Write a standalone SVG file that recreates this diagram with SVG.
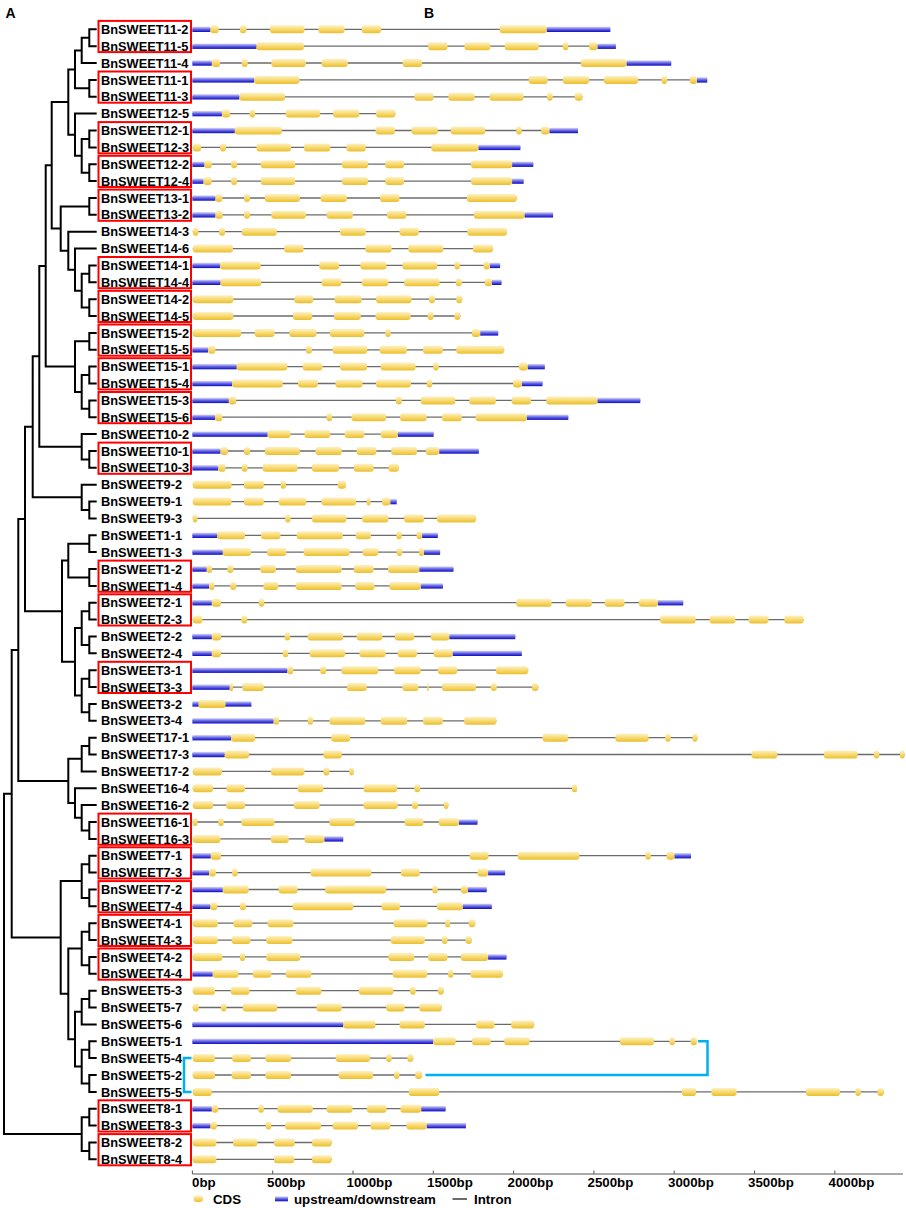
<svg xmlns="http://www.w3.org/2000/svg" width="906" height="1208" viewBox="0 0 906 1208">
<defs>
<linearGradient id="gc" x1="0" y1="0" x2="0" y2="1"><stop offset="0" stop-color="#FDF1C2"/><stop offset="0.5" stop-color="#F8DA72"/><stop offset="1" stop-color="#EBBE2E"/></linearGradient>
<linearGradient id="gu" x1="0" y1="0" x2="0" y2="1"><stop offset="0" stop-color="#DCDCF8"/><stop offset="0.45" stop-color="#6C6CE6"/><stop offset="1" stop-color="#0A0AC2"/></linearGradient>
</defs>
<style>
text{font-family:"Liberation Sans",Arial,sans-serif;fill:#000}
.lb{font-size:12.8px;font-weight:bold}
.ax{font-size:13.3px;font-weight:bold}
.c{fill:url(#gc)}
.u{fill:url(#gu)}
.i{stroke:#6b6b6b;stroke-width:1.3}
.tree{fill:none;stroke:#000;stroke-width:2}
.box{fill:none;stroke:#ff0000;stroke-width:2}
.cy{fill:none;stroke:#00B0F0;stroke-width:2.5}
</style>
<rect width="906" height="1208" fill="#fff"/>
<text x="5.5" y="18" style="font-size:14px;font-weight:bold">A</text>
<text x="424" y="18" style="font-size:14px;font-weight:bold">B</text>

<g id="connectors">
<path class="tree" d="M96.7,29.3H89.3V46.2H96.7 M96.7,79.9H89.3V96.8H96.7 M96.7,130.5H89.3V147.4H96.7 M96.7,164.2H89.3V181.1H96.7 M96.7,198H89.3V214.8H96.7 M96.7,265.4H89.3V282.3H96.7 M96.7,299.2H89.3V316H96.7 M96.7,332.9H89.3V349.8H96.7 M96.7,366.6H89.3V383.5H96.7 M96.7,400.4H89.3V417.2H96.7 M96.7,451H89.3V467.8H96.7 M96.7,501.6H89.3V518.4H96.7 M96.7,535.3H89.3V552.1H96.7 M96.7,569H89.3V585.9H96.7 M96.7,602.7H89.3V619.6H96.7 M96.7,636.5H89.3V653.3H96.7 M96.7,670.2H89.3V687.1H96.7 M96.7,703.9H89.3V720.8H96.7 M96.7,737.7H89.3V754.5H96.7 M96.7,822H89.3V838.9H96.7 M96.7,855.7H89.3V872.6H96.7 M96.7,889.5H89.3V906.3H96.7 M96.7,923.2H89.3V940.1H96.7 M96.7,956.9H89.3V973.8H96.7 M96.7,990.7H89.3V1007.5H96.7 M96.7,1041.3H89.3V1058.1H96.7 M96.7,1075H89.3V1091.9H96.7 M96.7,1108.7H89.3V1125.6H96.7 M96.7,1142.5H89.3V1159.3H96.7
M89.3,37.75H81.7V63H96.7 M81.7,50.4H75V88.35H89.3 M89.3,138.95H81.7V172.65H89.3 M96.7,113.6H75V155.8H81.7 M75,69.4H68.3V134.7H75
M89.3,273.85H81.7V307.6H89.3 M96.7,248.6H75V290.7H81.7 M96.7,231.7H68.3V269.65H75 M89.3,206.4H60.7V250.7H68.3 M68.3,102.05H51.7V228.55H60.7
M89.3,375.05H81.7V408.8H89.3 M89.3,341.35H75V391.9H81.7 M51.7,165.3H45.7V366.6H75 M96.7,434.1H81.7V459.4H89.3 M45.7,265.95H39.3V446.75H81.7
M96.7,484.7H81.7V510H89.3 M39.3,356.35H32.7V497.35H81.7
M89.3,543.7H68.3V577.45H89.3 M89.3,611.15H81.7V644.9H89.3 M89.3,678.65H81.7V712.35H89.3 M81.7,628H75V695.5H81.7 M68.3,560.6H62V661.75H75 M32.7,426.85H25V611.2H62
M89.3,746.1H81.7V771.4H96.7 M96.7,805.1H81.7V830.45H89.3 M96.7,788.3H75V817.8H81.7 M81.7,758.75H68.3V803.05H75 M25,519H18.3V780.9H68.3
M89.3,864.15H81.7V897.9H89.3 M89.3,931.65H81.7V965.35H89.3 M89.3,999.1H81.7V1024.4H96.7 M89.3,1049.7H81.7V1083.45H89.3 M81.7,1011.75H75V1066.6H81.7 M81.7,948.5H68.3V1039.2H75 M81.7,881H60.7V993.85H68.3 M18.3,649.95H11.7V937.4H60.7
M89.3,1117.15H81.7V1150.9H89.3 M11.7,793.7H4V1134H81.7"/>
<path class="cy" d="M698,1041.3H707.5V1075H425.5 M191.5,1058.1H184V1091.9H191.5"/>
</g>

<g id="boxes">
<rect class="box" x="98.5" y="20.9" width="92.5" height="31.2"/>
<rect class="box" x="98.5" y="71.5" width="92.5" height="31.2"/>
<rect class="box" x="98.5" y="122.1" width="92.5" height="31.2"/>
<rect class="box" x="98.5" y="155.8" width="92.5" height="31.2"/>
<rect class="box" x="98.5" y="189.6" width="92.5" height="31.2"/>
<rect class="box" x="98.5" y="257" width="92.5" height="31.2"/>
<rect class="box" x="98.5" y="290.8" width="92.5" height="31.2"/>
<rect class="box" x="98.5" y="324.5" width="92.5" height="31.2"/>
<rect class="box" x="98.5" y="358.2" width="92.5" height="31.2"/>
<rect class="box" x="98.5" y="392" width="92.5" height="31.2"/>
<rect class="box" x="98.5" y="442.6" width="92.5" height="31.2"/>
<rect class="box" x="98.5" y="560.6" width="92.5" height="31.2"/>
<rect class="box" x="98.5" y="594.3" width="92.5" height="31.2"/>
<rect class="box" x="98.5" y="661.8" width="92.5" height="31.2"/>
<rect class="box" x="98.5" y="813.6" width="92.5" height="31.2"/>
<rect class="box" x="98.5" y="847.3" width="92.5" height="31.2"/>
<rect class="box" x="98.5" y="881.1" width="92.5" height="31.2"/>
<rect class="box" x="98.5" y="914.8" width="92.5" height="31.2"/>
<rect class="box" x="98.5" y="948.5" width="92.5" height="31.2"/>
<rect class="box" x="98.5" y="1100.3" width="92.5" height="31.2"/>
<rect class="box" x="98.5" y="1134.1" width="92.5" height="31.2"/>
</g>

<g id="BnSWEET11-2" transform="translate(0,29.3)"><text class="lb" x="101" y="4.6">BnSWEET11-2</text><line class="i" x1="192.4" x2="610.3"/><rect class="u" x="192.4" y="-2.7" width="18" height="5.4"/><rect class="u" x="546.7" y="-2.7" width="63.6" height="5.4"/><rect class="c" x="210.4" y="-4" width="8.3" height="8" rx="3"/><rect class="c" x="239.9" y="-4" width="6.5" height="8" rx="3"/><rect class="c" x="269.9" y="-4" width="34.6" height="8" rx="3"/><rect class="c" x="318.3" y="-4" width="26.3" height="8" rx="3"/><rect class="c" x="361.7" y="-4" width="19.4" height="8" rx="3"/><rect class="c" x="499.6" y="-4" width="47.1" height="8" rx="3"/></g>
<g id="BnSWEET11-5" transform="translate(0,46.2)"><text class="lb" x="101" y="4.6">BnSWEET11-5</text><line class="i" x1="192.4" x2="615.9"/><rect class="u" x="192.4" y="-2.7" width="64.1" height="5.4"/><rect class="u" x="597.4" y="-2.7" width="18.5" height="5.4"/><rect class="c" x="256.5" y="-4" width="47.5" height="8" rx="3"/><rect class="c" x="428.1" y="-4" width="19.4" height="8" rx="3"/><rect class="c" x="464.5" y="-4" width="25.9" height="8" rx="3"/><rect class="c" x="504.7" y="-4" width="34.1" height="8" rx="3"/><rect class="c" x="562.8" y="-4" width="5.5" height="8" rx="3"/><rect class="c" x="589.1" y="-4" width="8.3" height="8" rx="3"/></g>
<g id="BnSWEET11-4" transform="translate(0,63)"><text class="lb" x="101" y="4.6">BnSWEET11-4</text><line class="i" x1="192.4" x2="671.2"/><rect class="u" x="192.4" y="-2.7" width="19.4" height="5.4"/><rect class="u" x="626.5" y="-2.7" width="44.7" height="5.4"/><rect class="c" x="211.8" y="-4" width="8.3" height="8" rx="3"/><rect class="c" x="241.7" y="-4" width="6" height="8" rx="3"/><rect class="c" x="271.3" y="-4" width="34.6" height="8" rx="3"/><rect class="c" x="321.5" y="-4" width="26.3" height="8" rx="3"/><rect class="c" x="402.7" y="-4" width="19.4" height="8" rx="3"/><rect class="c" x="580.8" y="-4" width="45.7" height="8" rx="3"/></g>
<g id="BnSWEET11-1" transform="translate(0,79.9)"><text class="lb" x="101" y="4.6">BnSWEET11-1</text><line class="i" x1="192.4" x2="707.2"/><rect class="u" x="192.4" y="-2.7" width="61.8" height="5.4"/><rect class="u" x="697" y="-2.7" width="10.2" height="5.4"/><rect class="c" x="254.2" y="-4" width="45.2" height="8" rx="3"/><rect class="c" x="528.7" y="-4" width="18.9" height="8" rx="3"/><rect class="c" x="562.8" y="-4" width="26.3" height="8" rx="3"/><rect class="c" x="603.9" y="-4" width="34.1" height="8" rx="3"/><rect class="c" x="661.5" y="-4" width="5.6" height="8" rx="3"/><rect class="c" x="689.7" y="-4" width="7.3" height="8" rx="3"/></g>
<g id="BnSWEET11-3" transform="translate(0,96.8)"><text class="lb" x="101" y="4.6">BnSWEET11-3</text><line class="i" x1="192.4" x2="582.6"/><rect class="u" x="192.4" y="-2.7" width="47" height="5.4"/><rect class="c" x="239.4" y="-4" width="45.7" height="8" rx="3"/><rect class="c" x="414.3" y="-4" width="19.3" height="8" rx="3"/><rect class="c" x="448.4" y="-4" width="26.3" height="8" rx="3"/><rect class="c" x="489.5" y="-4" width="34.1" height="8" rx="3"/><rect class="c" x="547.1" y="-4" width="5.6" height="8" rx="3"/><rect class="c" x="574.8" y="-4" width="7.8" height="8" rx="3"/></g>
<g id="BnSWEET12-5" transform="translate(0,113.6)"><text class="lb" x="101" y="4.6">BnSWEET12-5</text><line class="i" x1="192.4" x2="395.4"/><rect class="u" x="192.4" y="-2.7" width="29.5" height="5.4"/><rect class="c" x="221.9" y="-4" width="8.3" height="8" rx="3"/><rect class="c" x="249.6" y="-4" width="5.5" height="8" rx="3"/><rect class="c" x="285.6" y="-4" width="34.6" height="8" rx="3"/><rect class="c" x="333.1" y="-4" width="26.3" height="8" rx="3"/><rect class="c" x="376" y="-4" width="19.4" height="8" rx="3"/></g>
<g id="BnSWEET12-1" transform="translate(0,130.5)"><text class="lb" x="101" y="4.6">BnSWEET12-1</text><line class="i" x1="192.4" x2="578"/><rect class="u" x="192.4" y="-2.7" width="42.4" height="5.4"/><rect class="u" x="549.4" y="-2.7" width="28.6" height="5.4"/><rect class="c" x="234.8" y="-4" width="47.1" height="8" rx="3"/><rect class="c" x="375.5" y="-4" width="19.4" height="8" rx="3"/><rect class="c" x="411.5" y="-4" width="26.3" height="8" rx="3"/><rect class="c" x="450.7" y="-4" width="34.6" height="8" rx="3"/><rect class="c" x="516.2" y="-4" width="5.6" height="8" rx="3"/><rect class="c" x="541.1" y="-4" width="8.3" height="8" rx="3"/></g>
<g id="BnSWEET12-3" transform="translate(0,147.4)"><text class="lb" x="101" y="4.6">BnSWEET12-3</text><line class="i" x1="192.8" x2="520.4"/><rect class="u" x="478.4" y="-2.7" width="42" height="5.4"/><rect class="c" x="192.8" y="-4" width="8.3" height="8" rx="3"/><rect class="c" x="220.1" y="-4" width="6" height="8" rx="3"/><rect class="c" x="256.5" y="-4" width="34.6" height="8" rx="3"/><rect class="c" x="304" y="-4" width="26.3" height="8" rx="3"/><rect class="c" x="346.5" y="-4" width="19.3" height="8" rx="3"/><rect class="c" x="431.3" y="-4" width="47.1" height="8" rx="3"/></g>
<g id="BnSWEET12-2" transform="translate(0,164.2)"><text class="lb" x="101" y="4.6">BnSWEET12-2</text><line class="i" x1="192.4" x2="533.3"/><rect class="u" x="192.4" y="-2.7" width="12" height="5.4"/><rect class="u" x="512.1" y="-2.7" width="21.2" height="5.4"/><rect class="c" x="204.4" y="-4" width="7.4" height="8" rx="3"/><rect class="c" x="231.1" y="-4" width="6" height="8" rx="3"/><rect class="c" x="260.7" y="-4" width="34.6" height="8" rx="3"/><rect class="c" x="341.8" y="-4" width="26.3" height="8" rx="3"/><rect class="c" x="385.2" y="-4" width="18.9" height="8" rx="3"/><rect class="c" x="471" y="-4" width="41.1" height="8" rx="3"/></g>
<g id="BnSWEET12-4" transform="translate(0,181.1)"><text class="lb" x="101" y="4.6">BnSWEET12-4</text><line class="i" x1="192.4" x2="523.6"/><rect class="u" x="192.4" y="-2.7" width="11.1" height="5.4"/><rect class="u" x="512.1" y="-2.7" width="11.5" height="5.4"/><rect class="c" x="203.5" y="-4" width="8.3" height="8" rx="3"/><rect class="c" x="231.1" y="-4" width="6" height="8" rx="3"/><rect class="c" x="260.7" y="-4" width="34.6" height="8" rx="3"/><rect class="c" x="341.8" y="-4" width="26.3" height="8" rx="3"/><rect class="c" x="385.2" y="-4" width="18.9" height="8" rx="3"/><rect class="c" x="471" y="-4" width="41.1" height="8" rx="3"/></g>
<g id="BnSWEET13-1" transform="translate(0,198)"><text class="lb" x="101" y="4.6">BnSWEET13-1</text><line class="i" x1="192.4" x2="516.7"/><rect class="u" x="192.4" y="-2.7" width="23" height="5.4"/><rect class="c" x="215.4" y="-4" width="7" height="8" rx="3"/><rect class="c" x="244" y="-4" width="6" height="8" rx="3"/><rect class="c" x="264.8" y="-4" width="35.1" height="8" rx="3"/><rect class="c" x="320.6" y="-4" width="26.3" height="8" rx="3"/><rect class="c" x="380.1" y="-4" width="19.4" height="8" rx="3"/><rect class="c" x="466.9" y="-4" width="49.8" height="8" rx="3"/></g>
<g id="BnSWEET13-2" transform="translate(0,214.8)"><text class="lb" x="101" y="4.6">BnSWEET13-2</text><line class="i" x1="192.4" x2="553.1"/><rect class="u" x="192.4" y="-2.7" width="23" height="5.4"/><rect class="u" x="524.5" y="-2.7" width="28.6" height="5.4"/><rect class="c" x="215.4" y="-4" width="7.4" height="8" rx="3"/><rect class="c" x="244" y="-4" width="6" height="8" rx="3"/><rect class="c" x="271.3" y="-4" width="34.6" height="8" rx="3"/><rect class="c" x="326.6" y="-4" width="26.3" height="8" rx="3"/><rect class="c" x="387" y="-4" width="19.4" height="8" rx="3"/><rect class="c" x="473.8" y="-4" width="50.7" height="8" rx="3"/></g>
<g id="BnSWEET14-3" transform="translate(0,231.7)"><text class="lb" x="101" y="4.6">BnSWEET14-3</text><line class="i" x1="192.8" x2="507"/><rect class="c" x="192.8" y="-4" width="5.6" height="8" rx="3"/><rect class="c" x="219.1" y="-4" width="6" height="8" rx="3"/><rect class="c" x="241.7" y="-4" width="35.1" height="8" rx="3"/><rect class="c" x="340" y="-4" width="25.8" height="8" rx="3"/><rect class="c" x="399.5" y="-4" width="19.4" height="8" rx="3"/><rect class="c" x="467.3" y="-4" width="39.7" height="8" rx="3"/></g>
<g id="BnSWEET14-6" transform="translate(0,248.6)"><text class="lb" x="101" y="4.6">BnSWEET14-6</text><line class="i" x1="192.8" x2="493.1"/><rect class="c" x="192.8" y="-4" width="40.2" height="8" rx="3"/><rect class="c" x="284.2" y="-4" width="19.4" height="8" rx="3"/><rect class="c" x="365.4" y="-4" width="26.3" height="8" rx="3"/><rect class="c" x="408.3" y="-4" width="35" height="8" rx="3"/><rect class="c" x="472.9" y="-4" width="20.2" height="8" rx="3"/></g>
<g id="BnSWEET14-1" transform="translate(0,265.4)"><text class="lb" x="101" y="4.6">BnSWEET14-1</text><line class="i" x1="192.4" x2="500.1"/><rect class="u" x="192.4" y="-2.7" width="27.7" height="5.4"/><rect class="u" x="489.9" y="-2.7" width="10.2" height="5.4"/><rect class="c" x="220.1" y="-4" width="40.6" height="8" rx="3"/><rect class="c" x="319.2" y="-4" width="19.9" height="8" rx="3"/><rect class="c" x="360.3" y="-4" width="26.3" height="8" rx="3"/><rect class="c" x="402.3" y="-4" width="35" height="8" rx="3"/><rect class="c" x="454.4" y="-4" width="5.5" height="8" rx="3"/><rect class="c" x="483.5" y="-4" width="6.4" height="8" rx="3"/></g>
<g id="BnSWEET14-4" transform="translate(0,282.3)"><text class="lb" x="101" y="4.6">BnSWEET14-4</text><line class="i" x1="192.4" x2="501.5"/><rect class="u" x="192.4" y="-2.7" width="28.1" height="5.4"/><rect class="u" x="491.8" y="-2.7" width="9.7" height="5.4"/><rect class="c" x="220.5" y="-4" width="40.6" height="8" rx="3"/><rect class="c" x="321.5" y="-4" width="19.9" height="8" rx="3"/><rect class="c" x="361.7" y="-4" width="26.7" height="8" rx="3"/><rect class="c" x="404.1" y="-4" width="35.5" height="8" rx="3"/><rect class="c" x="455.8" y="-4" width="6" height="8" rx="3"/><rect class="c" x="484.8" y="-4" width="7" height="8" rx="3"/></g>
<g id="BnSWEET14-2" transform="translate(0,299.2)"><text class="lb" x="101" y="4.6">BnSWEET14-2</text><line class="i" x1="192.8" x2="462.2"/><rect class="c" x="192.8" y="-4" width="40.6" height="8" rx="3"/><rect class="c" x="294.3" y="-4" width="18.9" height="8" rx="3"/><rect class="c" x="334.5" y="-4" width="27.2" height="8" rx="3"/><rect class="c" x="376" y="-4" width="35.5" height="8" rx="3"/><rect class="c" x="429" y="-4" width="6" height="8" rx="3"/><rect class="c" x="456.2" y="-4" width="6" height="8" rx="3"/></g>
<g id="BnSWEET14-5" transform="translate(0,316)"><text class="lb" x="101" y="4.6">BnSWEET14-5</text><line class="i" x1="192.8" x2="460.4"/><rect class="c" x="192.8" y="-4" width="40.6" height="8" rx="3"/><rect class="c" x="293" y="-4" width="19.3" height="8" rx="3"/><rect class="c" x="334" y="-4" width="26.8" height="8" rx="3"/><rect class="c" x="375.5" y="-4" width="35.1" height="8" rx="3"/><rect class="c" x="427.6" y="-4" width="6" height="8" rx="3"/><rect class="c" x="454.4" y="-4" width="6" height="8" rx="3"/></g>
<g id="BnSWEET15-2" transform="translate(0,332.9)"><text class="lb" x="101" y="4.6">BnSWEET15-2</text><line class="i" x1="192.8" x2="498.2"/><rect class="u" x="480.2" y="-2.7" width="18" height="5.4"/><rect class="c" x="192.8" y="-4" width="48.5" height="8" rx="3"/><rect class="c" x="254.7" y="-4" width="19.8" height="8" rx="3"/><rect class="c" x="289.3" y="-4" width="27.2" height="8" rx="3"/><rect class="c" x="329.8" y="-4" width="34.6" height="8" rx="3"/><rect class="c" x="385.2" y="-4" width="5.5" height="8" rx="3"/><rect class="c" x="471.9" y="-4" width="8.3" height="8" rx="3"/></g>
<g id="BnSWEET15-5" transform="translate(0,349.8)"><text class="lb" x="101" y="4.6">BnSWEET15-5</text><line class="i" x1="192.4" x2="504.2"/><rect class="u" x="192.4" y="-2.7" width="15.7" height="5.4"/><rect class="c" x="208.1" y="-4" width="7.3" height="8" rx="3"/><rect class="c" x="305.9" y="-4" width="6" height="8" rx="3"/><rect class="c" x="332.6" y="-4" width="34.6" height="8" rx="3"/><rect class="c" x="379.7" y="-4" width="27.2" height="8" rx="3"/><rect class="c" x="423" y="-4" width="19.9" height="8" rx="3"/><rect class="c" x="456.2" y="-4" width="48" height="8" rx="3"/></g>
<g id="BnSWEET15-1" transform="translate(0,366.6)"><text class="lb" x="101" y="4.6">BnSWEET15-1</text><line class="i" x1="192.4" x2="544.8"/><rect class="u" x="192.4" y="-2.7" width="44.3" height="5.4"/><rect class="u" x="527.7" y="-2.7" width="17.1" height="5.4"/><rect class="c" x="236.7" y="-4" width="50.7" height="8" rx="3"/><rect class="c" x="302.6" y="-4" width="19.9" height="8" rx="3"/><rect class="c" x="340" y="-4" width="27.2" height="8" rx="3"/><rect class="c" x="380.6" y="-4" width="35.1" height="8" rx="3"/><rect class="c" x="433.2" y="-4" width="5.5" height="8" rx="3"/><rect class="c" x="519" y="-4" width="8.7" height="8" rx="3"/></g>
<g id="BnSWEET15-4" transform="translate(0,383.5)"><text class="lb" x="101" y="4.6">BnSWEET15-4</text><line class="i" x1="192.4" x2="542.5"/><rect class="u" x="192.4" y="-2.7" width="39.7" height="5.4"/><rect class="u" x="521.8" y="-2.7" width="20.7" height="5.4"/><rect class="c" x="232.1" y="-4" width="50.7" height="8" rx="3"/><rect class="c" x="298" y="-4" width="19.9" height="8" rx="3"/><rect class="c" x="335.4" y="-4" width="27.2" height="8" rx="3"/><rect class="c" x="376" y="-4" width="35" height="8" rx="3"/><rect class="c" x="426.7" y="-4" width="5.6" height="8" rx="3"/><rect class="c" x="513" y="-4" width="8.8" height="8" rx="3"/></g>
<g id="BnSWEET15-3" transform="translate(0,400.4)"><text class="lb" x="101" y="4.6">BnSWEET15-3</text><line class="i" x1="192.4" x2="640.3"/><rect class="u" x="192.4" y="-2.7" width="36.4" height="5.4"/><rect class="u" x="597.4" y="-2.7" width="42.9" height="5.4"/><rect class="c" x="228.8" y="-4" width="7.4" height="8" rx="3"/><rect class="c" x="395.8" y="-4" width="6" height="8" rx="3"/><rect class="c" x="420.7" y="-4" width="34.6" height="8" rx="3"/><rect class="c" x="469.2" y="-4" width="26.7" height="8" rx="3"/><rect class="c" x="511.6" y="-4" width="19.4" height="8" rx="3"/><rect class="c" x="546.2" y="-4" width="51.2" height="8" rx="3"/></g>
<g id="BnSWEET15-6" transform="translate(0,417.2)"><text class="lb" x="101" y="4.6">BnSWEET15-6</text><line class="i" x1="192.4" x2="568.3"/><rect class="u" x="192.4" y="-2.7" width="22.6" height="5.4"/><rect class="u" x="526.8" y="-2.7" width="41.5" height="5.4"/><rect class="c" x="215" y="-4" width="7.4" height="8" rx="3"/><rect class="c" x="326.6" y="-4" width="5.6" height="8" rx="3"/><rect class="c" x="351.5" y="-4" width="34.6" height="8" rx="3"/><rect class="c" x="400" y="-4" width="26.7" height="8" rx="3"/><rect class="c" x="441.9" y="-4" width="19.9" height="8" rx="3"/><rect class="c" x="475.6" y="-4" width="51.2" height="8" rx="3"/></g>
<g id="BnSWEET10-2" transform="translate(0,434.1)"><text class="lb" x="101" y="4.6">BnSWEET10-2</text><line class="i" x1="192.4" x2="433.6"/><rect class="u" x="192.4" y="-2.7" width="75.2" height="5.4"/><rect class="u" x="397.7" y="-2.7" width="35.9" height="5.4"/><rect class="c" x="267.6" y="-4" width="23" height="8" rx="3"/><rect class="c" x="304.5" y="-4" width="25.8" height="8" rx="3"/><rect class="c" x="344.6" y="-4" width="19.8" height="8" rx="3"/><rect class="c" x="380.6" y="-4" width="17.1" height="8" rx="3"/></g>
<g id="BnSWEET10-1" transform="translate(0,451)"><text class="lb" x="101" y="4.6">BnSWEET10-1</text><line class="i" x1="192.4" x2="478.8"/><rect class="u" x="192.4" y="-2.7" width="28.1" height="5.4"/><rect class="u" x="439.2" y="-2.7" width="39.6" height="5.4"/><rect class="c" x="220.5" y="-4" width="7.4" height="8" rx="3"/><rect class="c" x="244" y="-4" width="6" height="8" rx="3"/><rect class="c" x="264.8" y="-4" width="35.1" height="8" rx="3"/><rect class="c" x="315.5" y="-4" width="26.3" height="8" rx="3"/><rect class="c" x="356.6" y="-4" width="19.8" height="8" rx="3"/><rect class="c" x="391.2" y="-4" width="25.8" height="8" rx="3"/><rect class="c" x="425.8" y="-4" width="13.4" height="8" rx="3"/></g>
<g id="BnSWEET10-3" transform="translate(0,467.8)"><text class="lb" x="101" y="4.6">BnSWEET10-3</text><line class="i" x1="192.4" x2="399"/><rect class="u" x="192.4" y="-2.7" width="25.8" height="5.4"/><rect class="c" x="218.2" y="-4" width="7.4" height="8" rx="3"/><rect class="c" x="241.7" y="-4" width="6" height="8" rx="3"/><rect class="c" x="262.5" y="-4" width="35.1" height="8" rx="3"/><rect class="c" x="311.9" y="-4" width="27.2" height="8" rx="3"/><rect class="c" x="353.8" y="-4" width="19.9" height="8" rx="3"/><rect class="c" x="388.4" y="-4" width="10.6" height="8" rx="3"/></g>
<g id="BnSWEET9-2" transform="translate(0,484.7)"><text class="lb" x="101" y="4.6">BnSWEET9-2</text><line class="i" x1="192.8" x2="346"/><rect class="c" x="192.8" y="-4" width="38.8" height="8" rx="3"/><rect class="c" x="244" y="-4" width="19.9" height="8" rx="3"/><rect class="c" x="280.5" y="-4" width="5.5" height="8" rx="3"/><rect class="c" x="337.7" y="-4" width="8.3" height="8" rx="3"/></g>
<g id="BnSWEET9-1" transform="translate(0,501.6)"><text class="lb" x="101" y="4.6">BnSWEET9-1</text><line class="i" x1="192.8" x2="396.7"/><rect class="u" x="390.3" y="-2.7" width="6.4" height="5.4"/><rect class="c" x="192.8" y="-4" width="38.8" height="8" rx="3"/><rect class="c" x="244" y="-4" width="19.9" height="8" rx="3"/><rect class="c" x="278.6" y="-4" width="27.7" height="8" rx="3"/><rect class="c" x="321.5" y="-4" width="34.6" height="8" rx="3"/><rect class="c" x="366.8" y="-4" width="3.6" height="8" rx="1.8"/><rect class="c" x="382" y="-4" width="8.3" height="8" rx="3"/></g>
<g id="BnSWEET9-3" transform="translate(0,518.4)"><text class="lb" x="101" y="4.6">BnSWEET9-3</text><line class="i" x1="192.8" x2="476.1"/><rect class="c" x="192.8" y="-4" width="4.7" height="8" rx="2.3"/><rect class="c" x="285.1" y="-4" width="5.5" height="8" rx="3"/><rect class="c" x="311.9" y="-4" width="34.6" height="8" rx="3"/><rect class="c" x="362.1" y="-4" width="26.3" height="8" rx="3"/><rect class="c" x="404.1" y="-4" width="19.9" height="8" rx="3"/><rect class="c" x="436.9" y="-4" width="39.2" height="8" rx="3"/></g>
<g id="BnSWEET1-1" transform="translate(0,535.3)"><text class="lb" x="101" y="4.6">BnSWEET1-1</text><line class="i" x1="192.4" x2="437.8"/><rect class="u" x="192.4" y="-2.7" width="24.9" height="5.4"/><rect class="u" x="422.1" y="-2.7" width="15.7" height="5.4"/><rect class="c" x="217.3" y="-4" width="27.7" height="8" rx="3"/><rect class="c" x="261.1" y="-4" width="19.4" height="8" rx="3"/><rect class="c" x="296.6" y="-4" width="46.2" height="8" rx="3"/><rect class="c" x="355.7" y="-4" width="15.2" height="8" rx="3"/><rect class="c" x="396.3" y="-4" width="5.5" height="8" rx="3"/><rect class="c" x="416.6" y="-4" width="5.5" height="8" rx="3"/></g>
<g id="BnSWEET1-3" transform="translate(0,552.1)"><text class="lb" x="101" y="4.6">BnSWEET1-3</text><line class="i" x1="192.4" x2="440.1"/><rect class="u" x="192.4" y="-2.7" width="30.4" height="5.4"/><rect class="u" x="424" y="-2.7" width="16.1" height="5.4"/><rect class="c" x="222.8" y="-4" width="28.2" height="8" rx="3"/><rect class="c" x="267.1" y="-4" width="19.4" height="8" rx="3"/><rect class="c" x="303.6" y="-4" width="46.1" height="8" rx="3"/><rect class="c" x="362.6" y="-4" width="15.7" height="8" rx="3"/><rect class="c" x="396.7" y="-4" width="5.6" height="8" rx="3"/><rect class="c" x="418.9" y="-4" width="5.1" height="8" rx="3"/></g>
<g id="BnSWEET1-2" transform="translate(0,569)"><text class="lb" x="101" y="4.6">BnSWEET1-2</text><line class="i" x1="192.4" x2="453.5"/><rect class="u" x="192.4" y="-2.7" width="14.3" height="5.4"/><rect class="u" x="419.3" y="-2.7" width="34.2" height="5.4"/><rect class="c" x="206.7" y="-4" width="5.5" height="8" rx="3"/><rect class="c" x="227.4" y="-4" width="6" height="8" rx="3"/><rect class="c" x="260.2" y="-4" width="15.7" height="8" rx="3"/><rect class="c" x="295.7" y="-4" width="46.1" height="8" rx="3"/><rect class="c" x="353.8" y="-4" width="19.9" height="8" rx="3"/><rect class="c" x="388" y="-4" width="31.3" height="8" rx="3"/></g>
<g id="BnSWEET1-4" transform="translate(0,585.9)"><text class="lb" x="101" y="4.6">BnSWEET1-4</text><line class="i" x1="192.4" x2="442.9"/><rect class="u" x="192.4" y="-2.7" width="16.6" height="5.4"/><rect class="u" x="420.7" y="-2.7" width="22.2" height="5.4"/><rect class="c" x="209" y="-4" width="5.5" height="8" rx="3"/><rect class="c" x="230.2" y="-4" width="6" height="8" rx="3"/><rect class="c" x="263.4" y="-4" width="14.8" height="8" rx="3"/><rect class="c" x="295.7" y="-4" width="46.1" height="8" rx="3"/><rect class="c" x="355.2" y="-4" width="19.4" height="8" rx="3"/><rect class="c" x="389.4" y="-4" width="31.3" height="8" rx="3"/></g>
<g id="BnSWEET2-1" transform="translate(0,602.7)"><text class="lb" x="101" y="4.6">BnSWEET2-1</text><line class="i" x1="192.4" x2="683.2"/><rect class="u" x="192.4" y="-2.7" width="19.4" height="5.4"/><rect class="u" x="657.8" y="-2.7" width="25.4" height="5.4"/><rect class="c" x="211.8" y="-4" width="9.2" height="8" rx="3"/><rect class="c" x="258.8" y="-4" width="5.5" height="8" rx="3"/><rect class="c" x="516.2" y="-4" width="35.5" height="8" rx="3"/><rect class="c" x="565.6" y="-4" width="26.3" height="8" rx="3"/><rect class="c" x="604.8" y="-4" width="19.8" height="8" rx="3"/><rect class="c" x="638.9" y="-4" width="18.9" height="8" rx="3"/></g>
<g id="BnSWEET2-3" transform="translate(0,619.6)"><text class="lb" x="101" y="4.6">BnSWEET2-3</text><line class="i" x1="192.8" x2="803.6"/><rect class="c" x="192.8" y="-4" width="9.7" height="8" rx="3"/><rect class="c" x="241.3" y="-4" width="6" height="8" rx="3"/><rect class="c" x="660.1" y="-4" width="35.6" height="8" rx="3"/><rect class="c" x="709.5" y="-4" width="25.8" height="8" rx="3"/><rect class="c" x="748.7" y="-4" width="19.8" height="8" rx="3"/><rect class="c" x="784.2" y="-4" width="19.4" height="8" rx="3"/></g>
<g id="BnSWEET2-2" transform="translate(0,636.5)"><text class="lb" x="101" y="4.6">BnSWEET2-2</text><line class="i" x1="192.4" x2="515.3"/><rect class="u" x="192.4" y="-2.7" width="19.4" height="5.4"/><rect class="u" x="449.3" y="-2.7" width="66" height="5.4"/><rect class="c" x="211.8" y="-4" width="9.2" height="8" rx="3"/><rect class="c" x="284.6" y="-4" width="5.6" height="8" rx="3"/><rect class="c" x="307.7" y="-4" width="35.5" height="8" rx="3"/><rect class="c" x="356.6" y="-4" width="25.8" height="8" rx="3"/><rect class="c" x="394.9" y="-4" width="19.4" height="8" rx="3"/><rect class="c" x="430.9" y="-4" width="18.4" height="8" rx="3"/></g>
<g id="BnSWEET2-4" transform="translate(0,653.3)"><text class="lb" x="101" y="4.6">BnSWEET2-4</text><line class="i" x1="192.4" x2="521.8"/><rect class="u" x="192.4" y="-2.7" width="19.4" height="5.4"/><rect class="u" x="452.6" y="-2.7" width="69.2" height="5.4"/><rect class="c" x="211.8" y="-4" width="9.2" height="8" rx="3"/><rect class="c" x="282.8" y="-4" width="5.5" height="8" rx="3"/><rect class="c" x="309.6" y="-4" width="35.5" height="8" rx="3"/><rect class="c" x="359.4" y="-4" width="26.3" height="8" rx="3"/><rect class="c" x="397.7" y="-4" width="19.3" height="8" rx="3"/><rect class="c" x="433.6" y="-4" width="19" height="8" rx="3"/></g>
<g id="BnSWEET3-1" transform="translate(0,670.2)"><text class="lb" x="101" y="4.6">BnSWEET3-1</text><line class="i" x1="192.4" x2="528.2"/><rect class="u" x="192.4" y="-2.7" width="95" height="5.4"/><rect class="c" x="287.4" y="-4" width="6" height="8" rx="3"/><rect class="c" x="320.2" y="-4" width="6" height="8" rx="3"/><rect class="c" x="341.4" y="-4" width="36.9" height="8" rx="3"/><rect class="c" x="394" y="-4" width="26.7" height="8" rx="3"/><rect class="c" x="437.8" y="-4" width="19.4" height="8" rx="3"/><rect class="c" x="495.9" y="-4" width="32.3" height="8" rx="3"/></g>
<g id="BnSWEET3-3" transform="translate(0,687.1)"><text class="lb" x="101" y="4.6">BnSWEET3-3</text><line class="i" x1="192.4" x2="538.4"/><rect class="u" x="192.4" y="-2.7" width="37.3" height="5.4"/><rect class="c" x="229.7" y="-4" width="3.3" height="8" rx="1.6"/><rect class="c" x="242.2" y="-4" width="21.7" height="8" rx="3"/><rect class="c" x="346.9" y="-4" width="19.9" height="8" rx="3"/><rect class="c" x="402.3" y="-4" width="16.1" height="8" rx="3"/><rect class="c" x="427.2" y="-4" width="1.4" height="8" rx="0.7"/><rect class="c" x="441.9" y="-4" width="34.2" height="8" rx="3"/><rect class="c" x="490.8" y="-4" width="6" height="8" rx="3"/><rect class="c" x="531.9" y="-4" width="6.5" height="8" rx="3"/></g>
<g id="BnSWEET3-2" transform="translate(0,703.9)"><text class="lb" x="101" y="4.6">BnSWEET3-2</text><rect class="u" x="192.4" y="-2.7" width="59" height="5.4"/><rect class="c" x="198.4" y="-4" width="27.2" height="8" rx="3"/></g>
<g id="BnSWEET3-4" transform="translate(0,720.8)"><text class="lb" x="101" y="4.6">BnSWEET3-4</text><line class="i" x1="192.4" x2="496.4"/><rect class="u" x="192.4" y="-2.7" width="81.2" height="5.4"/><rect class="c" x="273.6" y="-4" width="5.5" height="8" rx="3"/><rect class="c" x="307.7" y="-4" width="5.5" height="8" rx="3"/><rect class="c" x="329.4" y="-4" width="36" height="8" rx="3"/><rect class="c" x="380.6" y="-4" width="26.7" height="8" rx="3"/><rect class="c" x="423" y="-4" width="19.9" height="8" rx="3"/><rect class="c" x="464.1" y="-4" width="32.3" height="8" rx="3"/></g>
<g id="BnSWEET17-1" transform="translate(0,737.7)"><text class="lb" x="101" y="4.6">BnSWEET17-1</text><line class="i" x1="192.4" x2="697.5"/><rect class="u" x="192.4" y="-2.7" width="38.7" height="5.4"/><rect class="c" x="231.1" y="-4" width="24" height="8" rx="3"/><rect class="c" x="331.2" y="-4" width="18.9" height="8" rx="3"/><rect class="c" x="542.5" y="-4" width="25.8" height="8" rx="3"/><rect class="c" x="615.4" y="-4" width="33.2" height="8" rx="3"/><rect class="c" x="665.2" y="-4" width="5.5" height="8" rx="3"/><rect class="c" x="692.4" y="-4" width="5.1" height="8" rx="3"/></g>
<g id="BnSWEET17-3" transform="translate(0,754.5)"><text class="lb" x="101" y="4.6">BnSWEET17-3</text><line class="i" x1="192.4" x2="904.6"/><rect class="u" x="192.4" y="-2.7" width="32.3" height="5.4"/><rect class="c" x="224.7" y="-4" width="24.4" height="8" rx="3"/><rect class="c" x="323.4" y="-4" width="18.4" height="8" rx="3"/><rect class="c" x="751.5" y="-4" width="25.8" height="8" rx="3"/><rect class="c" x="823.9" y="-4" width="33.7" height="8" rx="3"/><rect class="c" x="873.7" y="-4" width="5.6" height="8" rx="3"/><rect class="c" x="900" y="-4" width="4.6" height="8" rx="2.3"/></g>
<g id="BnSWEET17-2" transform="translate(0,771.4)"><text class="lb" x="101" y="4.6">BnSWEET17-2</text><line class="i" x1="192.8" x2="353.8"/><rect class="c" x="192.8" y="-4" width="29.1" height="8" rx="3"/><rect class="c" x="270.8" y="-4" width="33.7" height="8" rx="3"/><rect class="c" x="323.4" y="-4" width="6" height="8" rx="3"/><rect class="c" x="349.2" y="-4" width="4.6" height="8" rx="2.3"/></g>
<g id="BnSWEET16-4" transform="translate(0,788.3)"><text class="lb" x="101" y="4.6">BnSWEET16-4</text><line class="i" x1="192.8" x2="577.1"/><rect class="c" x="192.8" y="-4" width="20.3" height="8" rx="3"/><rect class="c" x="226.5" y="-4" width="18.5" height="8" rx="3"/><rect class="c" x="297.6" y="-4" width="25.8" height="8" rx="3"/><rect class="c" x="363.5" y="-4" width="33.7" height="8" rx="3"/><rect class="c" x="414.3" y="-4" width="6" height="8" rx="3"/><rect class="c" x="572" y="-4" width="5.1" height="8" rx="2.5"/></g>
<g id="BnSWEET16-2" transform="translate(0,805.1)"><text class="lb" x="101" y="4.6">BnSWEET16-2</text><line class="i" x1="192.8" x2="448.4"/><rect class="c" x="192.8" y="-4" width="20.3" height="8" rx="3"/><rect class="c" x="226.1" y="-4" width="18.9" height="8" rx="3"/><rect class="c" x="293.9" y="-4" width="25.8" height="8" rx="3"/><rect class="c" x="363.5" y="-4" width="34.2" height="8" rx="3"/><rect class="c" x="412" y="-4" width="6" height="8" rx="3"/><rect class="c" x="443.8" y="-4" width="4.6" height="8" rx="2.3"/></g>
<g id="BnSWEET16-1" transform="translate(0,822)"><text class="lb" x="101" y="4.6">BnSWEET16-1</text><line class="i" x1="192.8" x2="477.5"/><rect class="u" x="459" y="-2.7" width="18.5" height="5.4"/><rect class="c" x="192.8" y="-4" width="4.7" height="8" rx="2.3"/><rect class="c" x="218.2" y="-4" width="5.5" height="8" rx="3"/><rect class="c" x="241.3" y="-4" width="33.2" height="8" rx="3"/><rect class="c" x="329.4" y="-4" width="25.8" height="8" rx="3"/><rect class="c" x="404.6" y="-4" width="18.9" height="8" rx="3"/><rect class="c" x="438.7" y="-4" width="20.3" height="8" rx="3"/></g>
<g id="BnSWEET16-3" transform="translate(0,838.9)"><text class="lb" x="101" y="4.6">BnSWEET16-3</text><line class="i" x1="192.8" x2="343.2"/><rect class="u" x="324.3" y="-2.7" width="18.9" height="5.4"/><rect class="c" x="192.8" y="-4" width="27.7" height="8" rx="3"/><rect class="c" x="270.8" y="-4" width="18" height="8" rx="3"/><rect class="c" x="304.5" y="-4" width="19.8" height="8" rx="3"/></g>
<g id="BnSWEET7-1" transform="translate(0,855.7)"><text class="lb" x="101" y="4.6">BnSWEET7-1</text><line class="i" x1="192.4" x2="691"/><rect class="u" x="192.4" y="-2.7" width="18.4" height="5.4"/><rect class="u" x="674.4" y="-2.7" width="16.6" height="5.4"/><rect class="c" x="210.8" y="-4" width="10.2" height="8" rx="3"/><rect class="c" x="469.6" y="-4" width="18.9" height="8" rx="3"/><rect class="c" x="517.6" y="-4" width="61.8" height="8" rx="3"/><rect class="c" x="645.4" y="-4" width="5.5" height="8" rx="3"/><rect class="c" x="666.6" y="-4" width="7.8" height="8" rx="3"/></g>
<g id="BnSWEET7-3" transform="translate(0,872.6)"><text class="lb" x="101" y="4.6">BnSWEET7-3</text><line class="i" x1="192.4" x2="505.1"/><rect class="u" x="192.4" y="-2.7" width="16.6" height="5.4"/><rect class="u" x="488.1" y="-2.7" width="17" height="5.4"/><rect class="c" x="209" y="-4" width="6.9" height="8" rx="3"/><rect class="c" x="232.1" y="-4" width="5.5" height="8" rx="3"/><rect class="c" x="310.5" y="-4" width="60.9" height="8" rx="3"/><rect class="c" x="400.9" y="-4" width="18.9" height="8" rx="3"/><rect class="c" x="477.5" y="-4" width="10.6" height="8" rx="3"/></g>
<g id="BnSWEET7-2" transform="translate(0,889.5)"><text class="lb" x="101" y="4.6">BnSWEET7-2</text><line class="i" x1="192.4" x2="486.7"/><rect class="u" x="192.4" y="-2.7" width="30.4" height="5.4"/><rect class="u" x="467.8" y="-2.7" width="18.9" height="5.4"/><rect class="c" x="222.8" y="-4" width="25.9" height="8" rx="3"/><rect class="c" x="278.6" y="-4" width="19" height="8" rx="3"/><rect class="c" x="325.2" y="-4" width="60.9" height="8" rx="3"/><rect class="c" x="432.3" y="-4" width="5.5" height="8" rx="3"/><rect class="c" x="460.9" y="-4" width="6.9" height="8" rx="3"/></g>
<g id="BnSWEET7-4" transform="translate(0,906.3)"><text class="lb" x="101" y="4.6">BnSWEET7-4</text><line class="i" x1="192.4" x2="491.8"/><rect class="u" x="192.4" y="-2.7" width="18" height="5.4"/><rect class="u" x="462.7" y="-2.7" width="29.1" height="5.4"/><rect class="c" x="210.4" y="-4" width="6.9" height="8" rx="3"/><rect class="c" x="239.9" y="-4" width="6" height="8" rx="3"/><rect class="c" x="292.5" y="-4" width="60.9" height="8" rx="3"/><rect class="c" x="381.5" y="-4" width="18.5" height="8" rx="3"/><rect class="c" x="436.9" y="-4" width="25.8" height="8" rx="3"/></g>
<g id="BnSWEET4-1" transform="translate(0,923.2)"><text class="lb" x="101" y="4.6">BnSWEET4-1</text><line class="i" x1="192.8" x2="475.2"/><rect class="c" x="192.8" y="-4" width="25" height="8" rx="3"/><rect class="c" x="233.4" y="-4" width="18.9" height="8" rx="3"/><rect class="c" x="267.6" y="-4" width="25.8" height="8" rx="3"/><rect class="c" x="393.5" y="-4" width="34.1" height="8" rx="3"/><rect class="c" x="445.2" y="-4" width="5" height="8" rx="2.5"/><rect class="c" x="468.7" y="-4" width="6.5" height="8" rx="3"/></g>
<g id="BnSWEET4-3" transform="translate(0,940.1)"><text class="lb" x="101" y="4.6">BnSWEET4-3</text><line class="i" x1="192.8" x2="471.9"/><rect class="c" x="192.8" y="-4" width="25" height="8" rx="3"/><rect class="c" x="231.6" y="-4" width="18.9" height="8" rx="3"/><rect class="c" x="266.2" y="-4" width="26.3" height="8" rx="3"/><rect class="c" x="390.7" y="-4" width="34.2" height="8" rx="3"/><rect class="c" x="441.9" y="-4" width="5.6" height="8" rx="3"/><rect class="c" x="465.5" y="-4" width="6.4" height="8" rx="3"/></g>
<g id="BnSWEET4-2" transform="translate(0,956.9)"><text class="lb" x="101" y="4.6">BnSWEET4-2</text><line class="i" x1="192.8" x2="506.5"/><rect class="u" x="488.1" y="-2.7" width="18.4" height="5.4"/><rect class="c" x="192.8" y="-4" width="29.6" height="8" rx="3"/><rect class="c" x="239.9" y="-4" width="5.1" height="8" rx="2.5"/><rect class="c" x="266.2" y="-4" width="34.1" height="8" rx="3"/><rect class="c" x="388.4" y="-4" width="25.9" height="8" rx="3"/><rect class="c" x="428.1" y="-4" width="19.4" height="8" rx="3"/><rect class="c" x="460.9" y="-4" width="27.2" height="8" rx="3"/></g>
<g id="BnSWEET4-4" transform="translate(0,973.8)"><text class="lb" x="101" y="4.6">BnSWEET4-4</text><line class="i" x1="192.4" x2="502.8"/><rect class="u" x="192.4" y="-2.7" width="20.3" height="5.4"/><rect class="c" x="212.7" y="-4" width="25.8" height="8" rx="3"/><rect class="c" x="252.8" y="-4" width="18.5" height="8" rx="3"/><rect class="c" x="285.6" y="-4" width="25.8" height="8" rx="3"/><rect class="c" x="392.6" y="-4" width="34.6" height="8" rx="3"/><rect class="c" x="448" y="-4" width="5.5" height="8" rx="3"/><rect class="c" x="470.5" y="-4" width="32.3" height="8" rx="3"/></g>
<g id="BnSWEET5-3" transform="translate(0,990.7)"><text class="lb" x="101" y="4.6">BnSWEET5-3</text><line class="i" x1="192.8" x2="443.8"/><rect class="c" x="192.8" y="-4" width="22.2" height="8" rx="3"/><rect class="c" x="230.7" y="-4" width="18.9" height="8" rx="3"/><rect class="c" x="295.7" y="-4" width="25.8" height="8" rx="3"/><rect class="c" x="358.9" y="-4" width="34.6" height="8" rx="3"/><rect class="c" x="410.1" y="-4" width="5.6" height="8" rx="3"/><rect class="c" x="437.8" y="-4" width="6" height="8" rx="3"/></g>
<g id="BnSWEET5-7" transform="translate(0,1007.5)"><text class="lb" x="101" y="4.6">BnSWEET5-7</text><line class="i" x1="192.8" x2="441.9"/><rect class="c" x="192.8" y="-4" width="6" height="8" rx="3"/><rect class="c" x="221" y="-4" width="5.5" height="8" rx="3"/><rect class="c" x="242.7" y="-4" width="34.6" height="8" rx="3"/><rect class="c" x="316.5" y="-4" width="25.3" height="8" rx="3"/><rect class="c" x="386.1" y="-4" width="18.5" height="8" rx="3"/><rect class="c" x="419.3" y="-4" width="22.6" height="8" rx="3"/></g>
<g id="BnSWEET5-6" transform="translate(0,1024.4)"><text class="lb" x="101" y="4.6">BnSWEET5-6</text><line class="i" x1="192.4" x2="534.2"/><rect class="u" x="192.4" y="-2.7" width="150.8" height="5.4"/><rect class="c" x="343.2" y="-4" width="32.3" height="8" rx="3"/><rect class="c" x="399.5" y="-4" width="25.4" height="8" rx="3"/><rect class="c" x="476.1" y="-4" width="18.4" height="8" rx="3"/><rect class="c" x="511.1" y="-4" width="23.1" height="8" rx="3"/></g>
<g id="BnSWEET5-1" transform="translate(0,1041.3)"><text class="lb" x="101" y="4.6">BnSWEET5-1</text><line class="i" x1="192.4" x2="697"/><rect class="u" x="192.4" y="-2.7" width="240.8" height="5.4"/><rect class="c" x="433.2" y="-4" width="22.6" height="8" rx="3"/><rect class="c" x="471.9" y="-4" width="18.9" height="8" rx="3"/><rect class="c" x="504.2" y="-4" width="25.4" height="8" rx="3"/><rect class="c" x="620" y="-4" width="34.1" height="8" rx="3"/><rect class="c" x="669.4" y="-4" width="5.5" height="8" rx="3"/><rect class="c" x="690.6" y="-4" width="6.4" height="8" rx="3"/></g>
<g id="BnSWEET5-4" transform="translate(0,1058.1)"><text class="lb" x="101" y="4.6">BnSWEET5-4</text><line class="i" x1="192.8" x2="413.3"/><rect class="c" x="192.8" y="-4" width="22.2" height="8" rx="3"/><rect class="c" x="232.1" y="-4" width="18.9" height="8" rx="3"/><rect class="c" x="265.3" y="-4" width="25.8" height="8" rx="3"/><rect class="c" x="335.8" y="-4" width="34.2" height="8" rx="3"/><rect class="c" x="386.1" y="-4" width="5.6" height="8" rx="3"/><rect class="c" x="407.3" y="-4" width="6" height="8" rx="3"/></g>
<g id="BnSWEET5-2" transform="translate(0,1075)"><text class="lb" x="101" y="4.6">BnSWEET5-2</text><line class="i" x1="192.8" x2="422.1"/><rect class="c" x="192.8" y="-4" width="22.2" height="8" rx="3"/><rect class="c" x="231.6" y="-4" width="19.4" height="8" rx="3"/><rect class="c" x="265.3" y="-4" width="25.8" height="8" rx="3"/><rect class="c" x="338.6" y="-4" width="34.6" height="8" rx="3"/><rect class="c" x="394" y="-4" width="5.5" height="8" rx="3"/><rect class="c" x="415.2" y="-4" width="6.9" height="8" rx="3"/></g>
<g id="BnSWEET5-5" transform="translate(0,1091.9)"><text class="lb" x="101" y="4.6">BnSWEET5-5</text><line class="i" x1="192.8" x2="883.9"/><rect class="c" x="192.8" y="-4" width="19" height="8" rx="3"/><rect class="c" x="408.7" y="-4" width="30.5" height="8" rx="3"/><rect class="c" x="681.8" y="-4" width="14.3" height="8" rx="3"/><rect class="c" x="711.3" y="-4" width="25.4" height="8" rx="3"/><rect class="c" x="805.9" y="-4" width="34.1" height="8" rx="3"/><rect class="c" x="855.3" y="-4" width="5.5" height="8" rx="3"/><rect class="c" x="877.4" y="-4" width="6.5" height="8" rx="3"/></g>
<g id="BnSWEET8-1" transform="translate(0,1108.7)"><text class="lb" x="101" y="4.6">BnSWEET8-1</text><line class="i" x1="192.4" x2="445.6"/><rect class="u" x="192.4" y="-2.7" width="19.4" height="5.4"/><rect class="u" x="421.2" y="-2.7" width="24.4" height="5.4"/><rect class="c" x="211.8" y="-4" width="6.4" height="8" rx="3"/><rect class="c" x="258.3" y="-4" width="5.6" height="8" rx="3"/><rect class="c" x="277.3" y="-4" width="35.5" height="8" rx="3"/><rect class="c" x="326.6" y="-4" width="25.9" height="8" rx="3"/><rect class="c" x="366.8" y="-4" width="19.8" height="8" rx="3"/><rect class="c" x="400.4" y="-4" width="20.8" height="8" rx="3"/></g>
<g id="BnSWEET8-3" transform="translate(0,1125.6)"><text class="lb" x="101" y="4.6">BnSWEET8-3</text><line class="i" x1="192.4" x2="465.9"/><rect class="u" x="192.4" y="-2.7" width="18" height="5.4"/><rect class="u" x="426.7" y="-2.7" width="39.2" height="5.4"/><rect class="c" x="210.4" y="-4" width="6.4" height="8" rx="3"/><rect class="c" x="265.7" y="-4" width="5.6" height="8" rx="3"/><rect class="c" x="285.1" y="-4" width="36" height="8" rx="3"/><rect class="c" x="332.6" y="-4" width="25.4" height="8" rx="3"/><rect class="c" x="370.4" y="-4" width="19.9" height="8" rx="3"/><rect class="c" x="406.4" y="-4" width="20.3" height="8" rx="3"/></g>
<g id="BnSWEET8-2" transform="translate(0,1142.5)"><text class="lb" x="101" y="4.6">BnSWEET8-2</text><line class="i" x1="192.8" x2="331.7"/><rect class="c" x="192.8" y="-4" width="23.6" height="8" rx="3"/><rect class="c" x="233" y="-4" width="24.4" height="8" rx="3"/><rect class="c" x="274" y="-4" width="20.8" height="8" rx="3"/><rect class="c" x="311.9" y="-4" width="19.8" height="8" rx="3"/></g>
<g id="BnSWEET8-4" transform="translate(0,1159.3)"><text class="lb" x="101" y="4.6">BnSWEET8-4</text><line class="i" x1="192.8" x2="331.7"/><rect class="c" x="192.8" y="-4" width="23.6" height="8" rx="3"/><rect class="c" x="274" y="-4" width="20.3" height="8" rx="3"/><rect class="c" x="311.9" y="-4" width="19.8" height="8" rx="3"/></g>

<g id="axis">
<path d="M192.4,1174H903 M192.4,1170.5V1174 M272.7,1170.5V1174 M353,1170.5V1174 M433.3,1170.5V1174 M513.6,1170.5V1174 M593.9,1170.5V1174 M674.2,1170.5V1174 M754.5,1170.5V1174 M834.8,1170.5V1174" fill="none" stroke="#555" stroke-width="1"/>
<text class="ax" x="192" y="1186.5">0bp</text>
<text class="ax" x="267" y="1186.5">500bp</text>
<text class="ax" x="346.5" y="1186.5">1000bp</text>
<text class="ax" x="427" y="1186.5">1500bp</text>
<text class="ax" x="507.5" y="1186.5">2000bp</text>
<text class="ax" x="587.5" y="1186.5">2500bp</text>
<text class="ax" x="668" y="1186.5">3000bp</text>
<text class="ax" x="748" y="1186.5">3500bp</text>
<text class="ax" x="828.5" y="1186.5">4000bp</text>
</g>
<g id="legend">
<rect class="c" x="193.5" y="1195.5" width="9.5" height="6.5" rx="3"/>
<text class="ax" x="213" y="1203.5">CDS</text>
<rect class="u" x="275" y="1196.3" width="13" height="5"/>
<text class="ax" x="294" y="1203.5">upstream/downstream</text>
<line x1="452.5" y1="1199" x2="467" y2="1199" stroke="#6b6b6b" stroke-width="2"/>
<text class="ax" x="474" y="1203.5">Intron</text>
</g>
</svg>
